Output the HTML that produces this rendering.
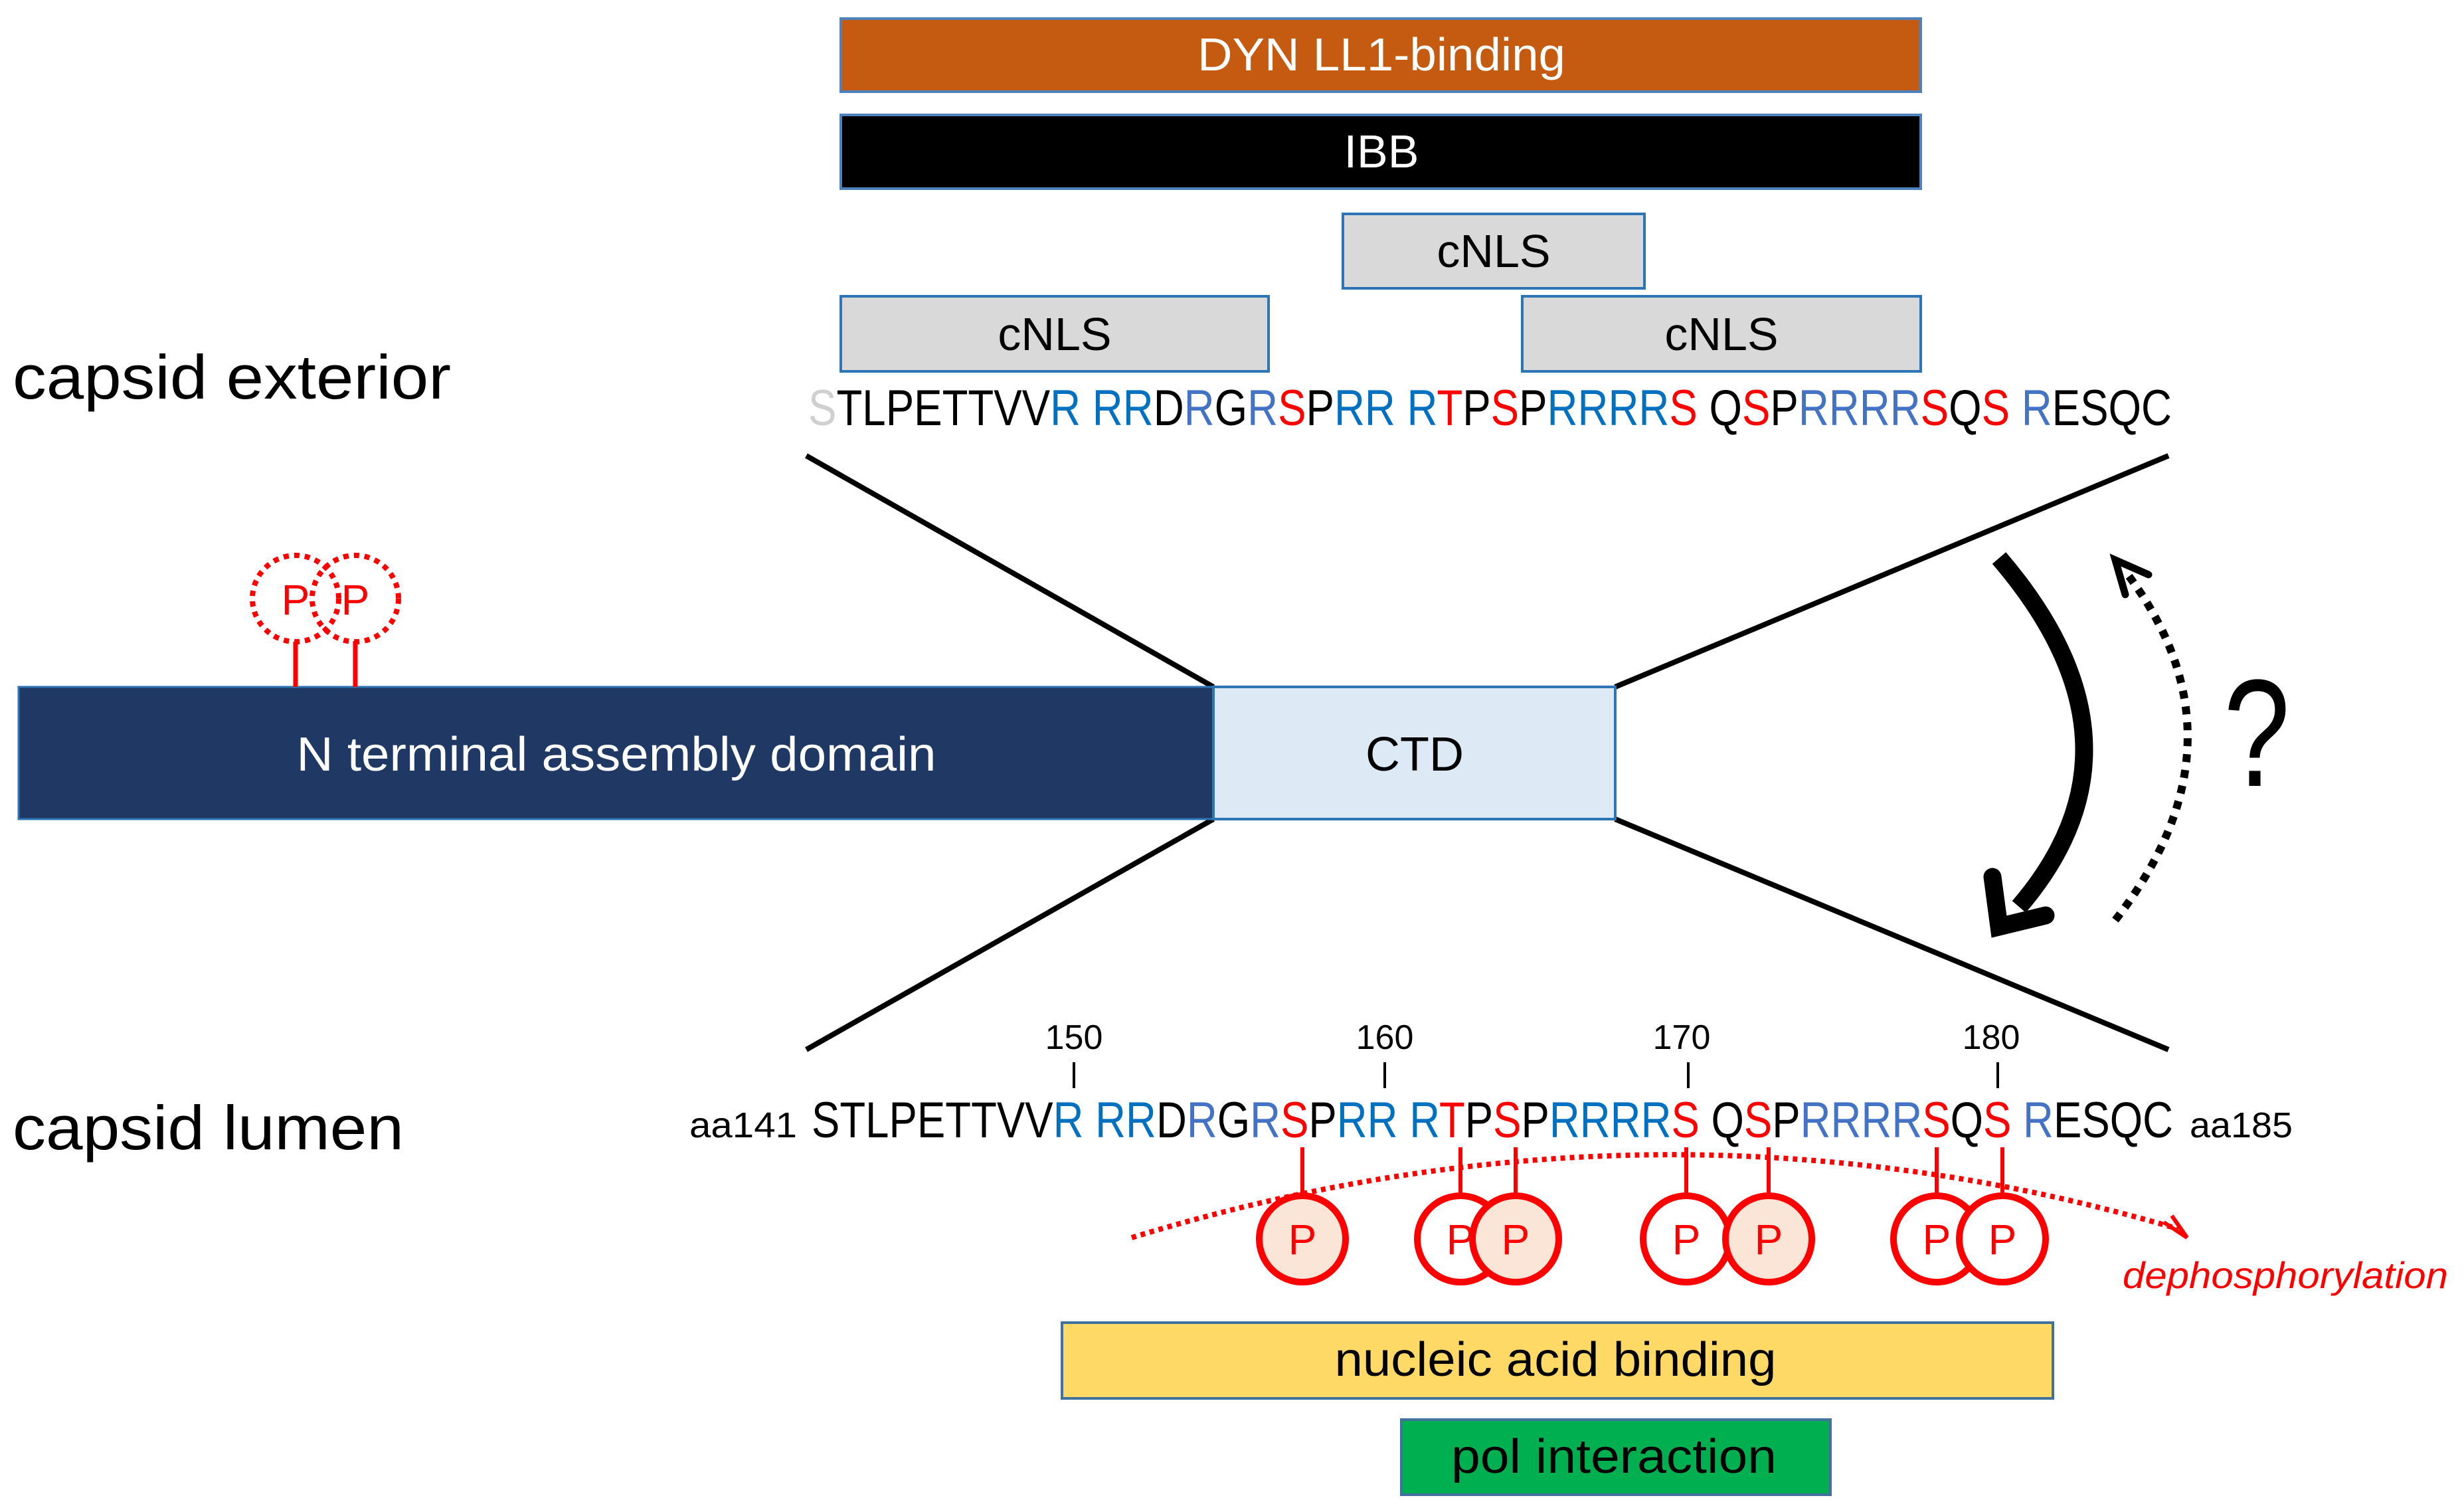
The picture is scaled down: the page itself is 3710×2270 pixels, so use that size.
<!DOCTYPE html>
<html><head><meta charset="utf-8"><style>
html,body{margin:0;padding:0;background:#fff;}
svg{display:block;}
text{font-family:"Liberation Sans",sans-serif;}
</style></head><body>
<svg width="3710" height="2270" viewBox="0 0 3710 2270" xmlns="http://www.w3.org/2000/svg">
<!-- top bars -->
<rect x="1266" y="28" width="1626" height="110" fill="#c55a11" stroke="#4f81bd" stroke-width="4"/>
<text x="2080" y="106" font-size="70" fill="#fff" text-anchor="middle" textLength="554" lengthAdjust="spacingAndGlyphs">DYN LL1-binding</text>
<rect x="1266" y="173" width="1626" height="111" fill="#000" stroke="#4f81bd" stroke-width="4"/>
<text x="2080" y="252" font-size="70" fill="#fff" text-anchor="middle">IBB</text>
<rect x="2022" y="322" width="454" height="112" fill="#d9d9d9" stroke="#2e75b6" stroke-width="4"/>
<text x="2249" y="402" font-size="70" fill="#000" text-anchor="middle">cNLS</text>
<rect x="1266" y="446" width="644" height="113" fill="#d9d9d9" stroke="#2e75b6" stroke-width="4"/>
<text x="1588" y="527" font-size="70" fill="#000" text-anchor="middle">cNLS</text>
<rect x="2292" y="446" width="600" height="113" fill="#d9d9d9" stroke="#2e75b6" stroke-width="4"/>
<text x="2592" y="527" font-size="70" fill="#000" text-anchor="middle">cNLS</text>

<!-- top sequence -->
<text x="1217" y="640" font-size="76" textLength="2053" lengthAdjust="spacingAndGlyphs"><tspan fill="#d0d0d0">S</tspan><tspan fill="#000">TLPETTVV</tspan><tspan fill="#0070c0">R RR</tspan><tspan fill="#000">D</tspan><tspan fill="#4472c4">R</tspan><tspan fill="#000">G</tspan><tspan fill="#4472c4">R</tspan><tspan fill="#ff0000">S</tspan><tspan fill="#000">P</tspan><tspan fill="#0070c0">RR R</tspan><tspan fill="#ff0000">T</tspan><tspan fill="#000">P</tspan><tspan fill="#ff0000">S</tspan><tspan fill="#000">P</tspan><tspan fill="#0070c0">RRRR</tspan><tspan fill="#ff0000">S</tspan><tspan fill="#000"> Q</tspan><tspan fill="#ff0000">S</tspan><tspan fill="#000">P</tspan><tspan fill="#4472c4">RRRR</tspan><tspan fill="#ff0000">S</tspan><tspan fill="#000">Q</tspan><tspan fill="#ff0000">S</tspan><tspan fill="#4472c4"> R</tspan><tspan fill="#000">ESQC</tspan></text>

<text x="19" y="600" font-size="94" fill="#000" textLength="660" lengthAdjust="spacingAndGlyphs">capsid exterior</text>
<text x="19" y="1730" font-size="94" fill="#000" textLength="589" lengthAdjust="spacingAndGlyphs">capsid lumen</text>

<!-- connector lines -->
<g stroke="#000" stroke-width="8" fill="none">
<line x1="1214" y1="686" x2="1827" y2="1034"/>
<line x1="3265" y1="686" x2="2432" y2="1034"/>
<line x1="1827" y1="1233" x2="1214" y2="1580"/>
<line x1="2432" y1="1233" x2="3265" y2="1580"/>
</g>

<!-- domain bar -->
<rect x="28" y="1034" width="1799" height="199" fill="#203864" stroke="#2e75b6" stroke-width="3"/>
<text x="928" y="1160" font-size="72" fill="#fff" text-anchor="middle" textLength="963" lengthAdjust="spacingAndGlyphs">N terminal assembly domain</text>
<rect x="1827" y="1034" width="605" height="199" fill="#dde9f5" stroke="#2e75b6" stroke-width="4"/>
<text x="2130" y="1160" font-size="72" fill="#000" text-anchor="middle">CTD</text>

<!-- dotted P top -->
<g stroke="#ff0000" fill="none">
<line x1="445" y1="965" x2="445" y2="1034" stroke-width="7"/>
<line x1="535" y1="965" x2="535" y2="1034" stroke-width="7"/>
<circle cx="445" cy="901" r="65" stroke-width="8" stroke-dasharray="8 8" fill="#fff"/>
<circle cx="535" cy="901" r="65" stroke-width="8" stroke-dasharray="8 8" fill="none"/>
</g>
<text x="445" y="925" font-size="64" fill="#ff0000" text-anchor="middle">P</text>
<text x="535" y="925" font-size="64" fill="#ff0000" text-anchor="middle">P</text>

<!-- curved arrows -->
<path d="M3010 840 Q3250 1120 3040 1365" stroke="#000" stroke-width="27" fill="none"/>
<path d="M3000 1320 L3010 1395 L3080 1378" stroke="#000" stroke-width="27" fill="none" stroke-linecap="round" stroke-linejoin="miter"/>
<path d="M3185 1385 Q3395 1115 3200 860" stroke="#000" stroke-width="12" fill="none" stroke-dasharray="12 12"/>
<path d="M3200 895 L3185 843 L3235 865" stroke="#000" stroke-width="11" fill="none" stroke-linecap="round"/>
<text x="3398" y="1183" font-size="230" fill="#000" text-anchor="middle" textLength="100" lengthAdjust="spacingAndGlyphs">?</text>

<!-- numbers & ticks -->
<g font-size="52" fill="#000" text-anchor="middle">
<text x="1617" y="1579">150</text><text x="2085" y="1579">160</text><text x="2532" y="1579">170</text><text x="2998" y="1579">180</text>
</g>
<g stroke="#000" stroke-width="4">
<line x1="1617" y1="1599" x2="1617" y2="1638"/><line x1="2085" y1="1599" x2="2085" y2="1638"/>
<line x1="2542" y1="1599" x2="2542" y2="1638"/><line x1="3008" y1="1599" x2="3008" y2="1638"/>
</g>

<!-- bottom sequence -->
<text x="1038" y="1712" font-size="54" fill="#000" textLength="162" lengthAdjust="spacingAndGlyphs">aa141</text>
<text x="3297" y="1712" font-size="54" fill="#000" textLength="155" lengthAdjust="spacingAndGlyphs">aa185</text>
<text x="1222" y="1712" font-size="76" textLength="2050" lengthAdjust="spacingAndGlyphs"><tspan fill="#000">STLPETTVV</tspan><tspan fill="#0070c0">R RR</tspan><tspan fill="#000">D</tspan><tspan fill="#4472c4">R</tspan><tspan fill="#000">G</tspan><tspan fill="#4472c4">R</tspan><tspan fill="#ff0000">S</tspan><tspan fill="#000">P</tspan><tspan fill="#0070c0">RR R</tspan><tspan fill="#ff0000">T</tspan><tspan fill="#000">P</tspan><tspan fill="#ff0000">S</tspan><tspan fill="#000">P</tspan><tspan fill="#0070c0">RRRR</tspan><tspan fill="#ff0000">S</tspan><tspan fill="#000"> Q</tspan><tspan fill="#ff0000">S</tspan><tspan fill="#000">P</tspan><tspan fill="#4472c4">RRRR</tspan><tspan fill="#ff0000">S</tspan><tspan fill="#000">Q</tspan><tspan fill="#ff0000">S</tspan><tspan fill="#4472c4"> R</tspan><tspan fill="#000">ESQC</tspan></text>

<!-- dephosphorylation arc -->
<path d="M1704 1863 Q2500 1620 3280 1850" stroke="#ff0000" stroke-width="8" fill="none" stroke-dasharray="7 7"/>
<path d="M3258 1840 L3293 1863 L3270 1830" stroke="#ff0000" stroke-width="6" fill="none"/>
<text x="3196" y="1939" font-size="56" font-style="italic" fill="#ff0000" textLength="490" lengthAdjust="spacingAndGlyphs">dephosphorylation</text>

<!-- P circles bottom -->
<g stroke="#ff0000" stroke-width="6">
<line x1="1961" y1="1727" x2="1961" y2="1800"/><line x1="2199" y1="1727" x2="2199" y2="1800"/>
<line x1="2282" y1="1727" x2="2282" y2="1800"/><line x1="2539" y1="1727" x2="2539" y2="1800"/>
<line x1="2663" y1="1727" x2="2663" y2="1800"/><line x1="2916" y1="1727" x2="2916" y2="1800"/>
<line x1="3015" y1="1727" x2="3015" y2="1800"/>
</g>
<g stroke="#ff0000" stroke-width="10">
<circle cx="1961" cy="1865" r="65" fill="#fbe5d6"/>
<circle cx="2199" cy="1865" r="65" fill="#fff"/>
<circle cx="2282" cy="1865" r="65" fill="#fbe5d6"/>
<circle cx="2539" cy="1865" r="65" fill="#fff"/>
<circle cx="2663" cy="1865" r="65" fill="#fbe5d6"/>
<circle cx="2916" cy="1865" r="65" fill="#fff"/>
<circle cx="3015" cy="1865" r="65" fill="#fff"/>
</g>
<g font-size="64" fill="#ff0000" text-anchor="middle">
<text x="1961" y="1888">P</text><text x="2199" y="1888">P</text><text x="2282" y="1888">P</text>
<text x="2539" y="1888">P</text><text x="2663" y="1888">P</text><text x="2916" y="1888">P</text><text x="3015" y="1888">P</text>
</g>

<!-- bottom boxes -->
<rect x="1599" y="1991" width="1492" height="114" fill="#ffd966" stroke="#41719c" stroke-width="4"/>
<text x="2342" y="2071" font-size="72" fill="#000" text-anchor="middle" textLength="665" lengthAdjust="spacingAndGlyphs">nucleic acid binding</text>
<rect x="2110" y="2137" width="646" height="113" fill="#00b050" stroke="#41719c" stroke-width="4"/>
<text x="2430" y="2217" font-size="72" fill="#000" text-anchor="middle" textLength="490" lengthAdjust="spacingAndGlyphs">pol interaction</text>
</svg>
</body></html>
